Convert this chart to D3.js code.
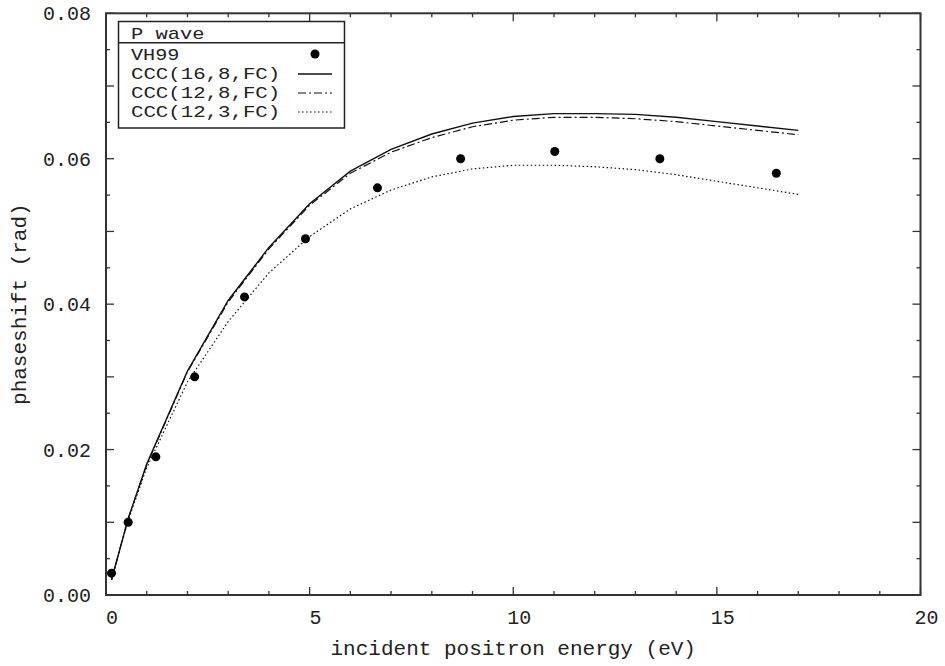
<!DOCTYPE html>
<html>
<head>
<meta charset="utf-8">
<script src="https://cdn.jsdelivr.net/npm/d3@7"></script>
<style>
  html, body { margin: 0; padding: 0; background: #fff; }
  svg text { font-family: "Courier New", "Liberation Mono", monospace; fill: #222; }
</style>
</head>
<body>
<svg id="chart" width="945" height="666"></svg>
<script>
// Measured P-wave phase shifts (VH99)
const vhEnergy = [0.136, 0.544, 1.224, 2.177, 3.401, 4.898, 6.666, 8.707, 11.02, 13.60, 16.46];
const vhPhase  = [0.003, 0.010, 0.019, 0.030, 0.041, 0.049, 0.056, 0.060, 0.061, 0.060, 0.058];

// Energy grid of the CCC calculations (eV)
const cccEnergy = [0.136, 0.544, 1, 2, 3, 4, 5, 6, 7, 8, 9, 10, 11, 12, 13, 14, 15, 16, 17];
const ccc16_8 = [0.0021, 0.0105, 0.0180, 0.0308, 0.0405, 0.0478, 0.0538, 0.0583, 0.0613, 0.0634, 0.0649, 0.0658, 0.0662, 0.0662, 0.0661, 0.0657, 0.0651, 0.0645, 0.0639];
const ccc12_8 = [0.0021, 0.0105, 0.0179, 0.0307, 0.0403, 0.0476, 0.0536, 0.0580, 0.0609, 0.0629, 0.0644, 0.0653, 0.0657, 0.0657, 0.0655, 0.0651, 0.0645, 0.0639, 0.0633];
const ccc12_3 = [0.0021, 0.0103, 0.0175, 0.0293, 0.0376, 0.0443, 0.0493, 0.0531, 0.0557, 0.0575, 0.0586, 0.0591, 0.0591, 0.0589, 0.0585, 0.0578, 0.0569, 0.0560, 0.0551];

const xTicks = [0, 5, 10, 15, 20];
const yTicks = [0.00, 0.02, 0.04, 0.06, 0.08];
const legendTitle = "P wave";
const seriesLabels = ["VH99", "CCC(16,8,FC)", "CCC(12,8,FC)", "CCC(12,3,FC)"];

const svg = d3.select("#chart");
const plotL = 106, plotR = 920.5, plotT = 13.3, plotB = 595;
const x = d3.scaleLinear().domain([0, 20]).range([plotL, plotR]);
const y = d3.scaleLinear().domain([0, 0.08]).range([plotB, plotT]);
const axisColor = "#333";

// Minor / major ticks on all four sides, pointing inward
const tickG = svg.append("g").attr("stroke", axisColor).attr("stroke-width", 1.3);
d3.range(0, 21, 1).forEach(v => {
  const len = v % 5 === 0 ? 8 : 4;
  tickG.append("line").attr("x1", x(v)).attr("x2", x(v)).attr("y1", plotB).attr("y2", plotB - len);
  tickG.append("line").attr("x1", x(v)).attr("x2", x(v)).attr("y1", plotT).attr("y2", plotT + len);
});
d3.range(0, 17, 1).map(i => i * 0.005).forEach((v, i) => {
  const len = i % 2 === 0 ? 8 : 4;
  tickG.append("line").attr("x1", plotL).attr("x2", plotL + len).attr("y1", y(v)).attr("y2", y(v));
  tickG.append("line").attr("x1", plotR).attr("x2", plotR - len).attr("y1", y(v)).attr("y2", y(v));
});

// Frame
svg.append("rect")
  .attr("x", plotL).attr("y", plotT)
  .attr("width", plotR - plotL).attr("height", plotB - plotT)
  .attr("fill", "none").attr("stroke", axisColor).attr("stroke-width", 2);

// Tick labels
svg.append("g").selectAll("text").data(xTicks).join("text")
  .attr("x", d => x(d) + 6).attr("y", 624)
  .attr("text-anchor", "middle").attr("font-size", 20)
  .text(d => d3.format("d")(d));
svg.append("g").selectAll("text").data(yTicks).join("text")
  .attr("x", 91).attr("y", d => y(d) + 7)
  .attr("text-anchor", "end").attr("font-size", 20)
  .text(d => d3.format(".2f")(d));

// Axis titles
svg.append("text")
  .attr("x", (plotL + plotR) / 2).attr("y", 655)
  .attr("text-anchor", "middle").attr("font-size", 21)
  .text("incident positron energy (eV)");
svg.append("text")
  .attr("transform", `translate(26,${(plotT + plotB) / 2}) rotate(-90)`)
  .attr("text-anchor", "middle").attr("font-size", 21)
  .text("phaseshift (rad)");

// Curves
const line = d3.line().x(d => x(d[0])).y(d => y(d[1]));
const styles = [
  { data: ccc16_8, dash: null, width: 1.4 },
  { data: ccc12_8, dash: "8,3,2,3", width: 1.2 },
  { data: ccc12_3, dash: "1.5,2.5", width: 1.2 }
];
styles.forEach(s => {
  svg.append("path")
    .attr("d", line(d3.zip(cccEnergy, s.data)))
    .attr("fill", "none").attr("stroke", "#111")
    .attr("stroke-width", s.width)
    .attr("stroke-dasharray", s.dash);
});

// Measured points
svg.append("g").selectAll("circle").data(d3.zip(vhEnergy, vhPhase)).join("circle")
  .attr("cx", d => x(d[0])).attr("cy", d => y(d[1]))
  .attr("r", 4.5).attr("fill", "#000");

// Legend (monospace text stretched to a 12.6px character pitch)
const lg = svg.append("g");
const lx0 = 118.5, lx1 = 344.5, ly0 = 21.5, ly1 = 128, lyDiv = 42.7;
const pitch = 12.6, legendFont = 17;
lg.append("rect").attr("x", lx0).attr("y", ly0).attr("width", lx1 - lx0).attr("height", ly1 - ly0)
  .attr("fill", "#fff").attr("stroke", "#222").attr("stroke-width", 1.5);
lg.append("line").attr("x1", lx0).attr("x2", lx1).attr("y1", lyDiv).attr("y2", lyDiv)
  .attr("stroke", "#222").attr("stroke-width", 1.5);
const legendText = (str, yy) => lg.append("text")
  .attr("x", 131).attr("y", yy).attr("font-size", legendFont)
  .attr("textLength", str.length * pitch - 2).attr("lengthAdjust", "spacingAndGlyphs")
  .text(str);
legendText(legendTitle, 38.5);
const rowY = [60, 79, 98, 117];
seriesLabels.forEach((lab, i) => legendText(lab, rowY[i]));
lg.append("circle").attr("cx", 315).attr("cy", 54).attr("r", 4.5).attr("fill", "#000");
styles.forEach((s, i) => {
  const yy = rowY[i + 1] - 5;
  lg.append("line").attr("x1", 298).attr("x2", 332).attr("y1", yy).attr("y2", yy)
    .attr("stroke", "#111").attr("stroke-width", s.width)
    .attr("stroke-dasharray", s.dash);
});
</script>
</body>
</html>
